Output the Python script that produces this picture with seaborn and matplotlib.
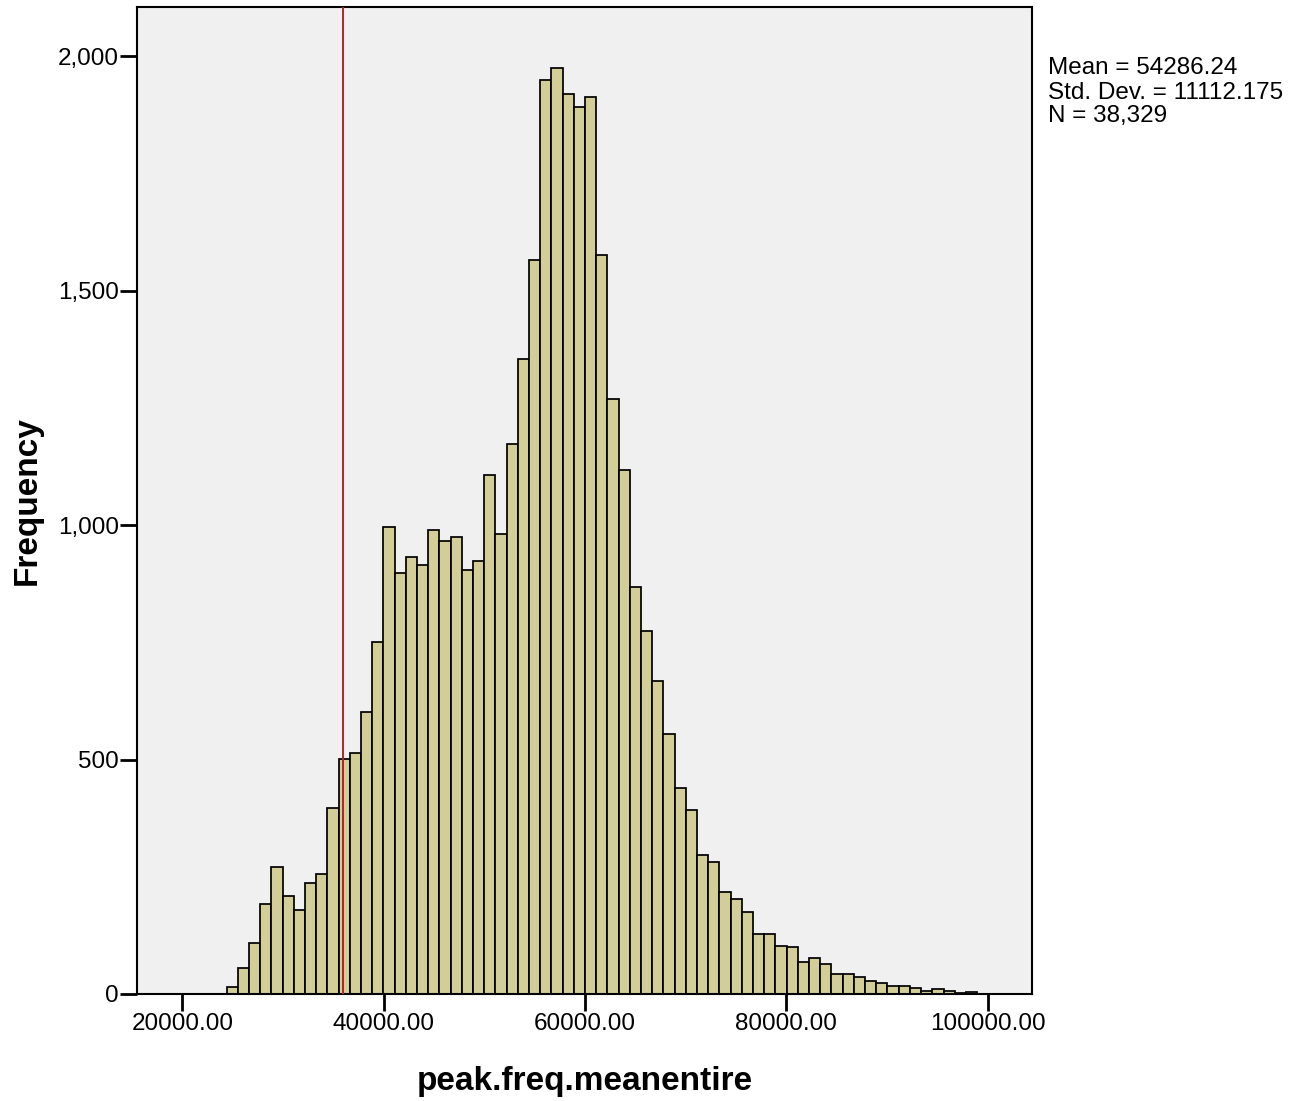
import numpy as np
import pandas as pd
import matplotlib
matplotlib.use("Agg")
import matplotlib.pyplot as plt
import seaborn as sns
from matplotlib.ticker import FuncFormatter, FixedLocator

# ---- data ----
bin_start = 24397.0
bin_width = 1112.7
counts = [14, 55, 108, 192, 271, 208, 179, 236, 255, 397,
          501, 514, 602, 750, 995, 897, 933, 915, 990, 967,
          975, 905, 924, 1106, 980, 1174, 1354, 1565, 1949, 1974,
          1919, 1891, 1913, 1577, 1270, 1117, 867, 774, 667, 555,
          440, 393, 296, 282, 217, 202, 174, 127, 128, 103,
          101, 69, 76, 64, 43, 42, 36, 28, 23, 17,
          16, 12, 7, 10, 7, 3, 4]
x_ticks = [20000, 40000, 60000, 80000, 100000]
y_ticks = [0, 500, 1000, 1500, 2000]
ref_line = 36000
stats_lines = ["Mean = 54286.24", "Std. Dev. = 11112.175", "N = 38,329"]
x_label = "peak.freq.meanentire"
y_label = "Frequency"

sns.set_theme(style="white")
plt.rcParams['font.family'] = ['Liberation Sans', 'DejaVu Sans']

n_bins = len(counts)
bin_end = bin_start + bin_width * n_bins
centers = bin_start + bin_width * (np.arange(n_bins) + 0.5)
df = pd.DataFrame({x_label: centers, "count": counts})

W, H = 1311, 1101
fig = plt.figure(figsize=(W / 100, H / 100), dpi=100)
fig.patch.set_facecolor("white")
ax = fig.add_axes([137 / W, 1 - 994 / H, (1032 - 137) / W, (994 - 7) / H])
ax.set_facecolor("#F0F0F0")

sns.histplot(data=df, x=x_label, weights="count", binwidth=bin_width,
             binrange=(bin_start, bin_end), stat="count",
             color="#D3CE97", edgecolor="black", linewidth=1.25, alpha=1,
             ax=ax, zorder=2)
ax.axvline(ref_line, color="#B5232A", lw=1.4, zorder=3)

ax.set_xlim(15500, 104400)
ax.set_ylim(0, 2105)
ax.xaxis.set_major_locator(FixedLocator(x_ticks))
ax.yaxis.set_major_locator(FixedLocator(y_ticks))
ax.xaxis.set_major_formatter(FuncFormatter(lambda v, p: f"{v:.2f}"))
ax.yaxis.set_major_formatter(FuncFormatter(lambda v, p: f"{int(v):,}"))

for s in ax.spines.values():
    s.set_visible(True)
    s.set_color("black")
    s.set_linewidth(1.5)

ax.tick_params(axis="both", which="major", direction="out", length=12,
               width=2, color="black", labelsize=17.5, labelcolor="black",
               bottom=True, left=True, top=False, right=False)
ax.tick_params(axis="x", pad=2)
ax.tick_params(axis="y", pad=1)

ax.set_xlabel(x_label, fontsize=24, fontweight="bold", labelpad=22, color="black")
ax.set_ylabel(y_label, fontsize=24, fontweight="bold", labelpad=11, color="black")

for line, yb in zip(stats_lines, [74.3, 99, 122]):
    fig.text(1048 / W, 1 - yb / H, line, fontsize=17.5, va="baseline",
             ha="left", color="black")

fig.savefig("out.png", dpi=100)
